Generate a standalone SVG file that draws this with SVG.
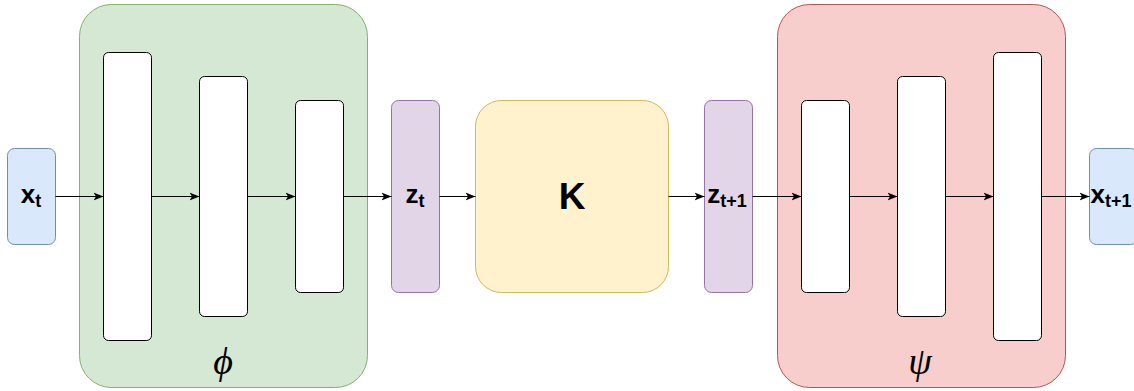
<svg xmlns="http://www.w3.org/2000/svg" width="1134" height="391" viewBox="0 0 1134 391">
<style>
.blue{fill:#dae8fc;stroke:#6c8ebf;stroke-width:1}
.green{fill:#d5e8d4;stroke:#82b366;stroke-width:1}
.purple{fill:#e1d5e7;stroke:#9673a6;stroke-width:1}
.yellow{fill:#fff2cc;stroke:#d6b656;stroke-width:1}
.red{fill:#f8cecc;stroke:#b85450;stroke-width:1}
.layer{fill:#ffffff;stroke:#000000;stroke-width:1}
.lbl{font-family:"Liberation Sans",Arial,sans-serif;font-weight:bold;fill:#000}
.greek{font-family:"Liberation Serif","Times New Roman",serif;font-style:italic;font-size:38px;fill:#000}
.edge{stroke:#000;stroke-width:1;fill:none;marker-end:url(#arr)}
</style>
<defs>
<marker id="arr" viewBox="0 0 10 10" refX="10" refY="5" markerWidth="10" markerHeight="10" markerUnits="userSpaceOnUse" orient="auto">
<path d="M0,1 L10,5 L0,9 L2.5,5 Z" fill="#000"/>
</marker>
</defs>
<g id="encoder">
<rect class="green" x="79.5" y="4.5" width="288" height="383" rx="32"/>
<text class="greek" x="223" y="374" text-anchor="middle">ϕ</text>
</g>
<g id="enc1"><rect class="layer" x="103.5" y="52.5" width="48" height="288" rx="5"/></g>
<g id="enc2"><rect class="layer" x="199.5" y="76.5" width="48" height="240" rx="5"/></g>
<g id="enc3"><rect class="layer" x="295.5" y="100.5" width="48" height="192" rx="5"/></g>
<g id="decoder">
<rect class="red" x="777.5" y="4.5" width="288" height="383" rx="32"/>
<text class="greek" x="920" y="374" text-anchor="middle">ψ</text>
</g>
<g id="dec1"><rect class="layer" x="801.5" y="100.5" width="48" height="192" rx="5"/></g>
<g id="dec2"><rect class="layer" x="897.5" y="76.5" width="48" height="240" rx="5"/></g>
<g id="dec3"><rect class="layer" x="993.5" y="52.5" width="48" height="288" rx="5"/></g>
<g id="xt">
<rect class="blue" x="7.5" y="148.5" width="48" height="96" rx="7"/>
<text class="lbl" x="31" y="203" text-anchor="middle" font-size="26">x<tspan font-size="18" dy="4">t</tspan></text>
</g>
<g id="zt">
<rect class="purple" x="391.5" y="100.5" width="48" height="192" rx="7"/>
<text class="lbl" x="415" y="203" text-anchor="middle" font-size="26">z<tspan font-size="18" dy="4">t</tspan></text>
</g>
<g id="K">
<rect class="yellow" x="475.5" y="100.5" width="193" height="192" rx="26"/>
<text class="lbl" x="572" y="209" text-anchor="middle" font-size="37">K</text>
</g>
<g id="zt1">
<rect class="purple" x="704.5" y="100.5" width="48" height="192" rx="7"/>
<text class="lbl" x="727" y="203" text-anchor="middle" font-size="26">z<tspan font-size="18" dy="4">t+1</tspan></text>
</g>
<g id="xt1">
<rect class="blue" x="1089.5" y="148.5" width="48" height="96" rx="7"/>
<text class="lbl" x="1111" y="203" text-anchor="middle" font-size="26">x<tspan font-size="18" dy="4">t+1</tspan></text>
</g>
<g id="connectors">
<path class="edge" d="M55.5,196.5 H103.5"/>
<path class="edge" d="M151.5,196.5 H199.5"/>
<path class="edge" d="M247.5,196.5 H295.5"/>
<path class="edge" d="M343.5,196.5 H391.5"/>
<path class="edge" d="M439.5,196.5 H475.5"/>
<path class="edge" d="M668.5,196.5 H704.5"/>
<path class="edge" d="M752.5,196.5 H801.5"/>
<path class="edge" d="M849.5,196.5 H897.5"/>
<path class="edge" d="M945.5,196.5 H993.5"/>
<path class="edge" d="M1041.5,196.5 H1089.5"/>
</g>
</svg>
